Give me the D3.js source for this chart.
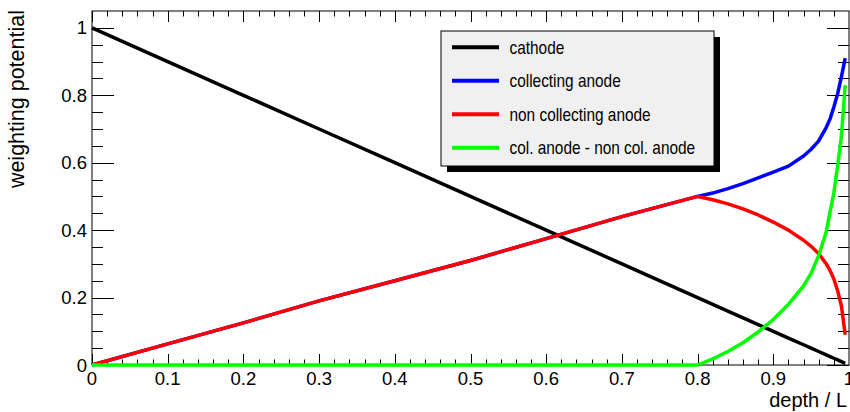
<!DOCTYPE html>
<html><head><meta charset="utf-8">
<script src="https://cdn.jsdelivr.net/npm/d3@7"></script>
<style>
html,body{margin:0;padding:0;background:#fff;}
svg{display:block;font-family:"Liberation Sans",Arial,sans-serif;}
</style></head>
<body>
<svg id="c" width="850" height="412"></svg>
<script>
// ---- data ----
const depth      = [0,0.1,0.2,0.3,0.4,0.5,0.6,0.7,0.8,0.82,0.84,0.86,0.88,0.90,0.92,0.94,0.95,0.96,0.97,0.975,0.98,0.985,0.99,0.995];
const cathode    = [1,0.9,0.8,0.7,0.6,0.5,0.4,0.3,0.2,0.18,0.16,0.14,0.12,0.10,0.08,0.06,0.05,0.04,0.03,0.025,0.02,0.015,0.01,0.005];
const collecting = [0,0.0625,0.125,0.19,0.25,0.31,0.375,0.44,0.5,0.51,0.523,0.538,0.555,0.572,0.59,0.62,0.64,0.665,0.705,0.73,0.765,0.805,0.855,0.91];
const nonCollecting = [0,0.0625,0.125,0.19,0.25,0.31,0.375,0.44,0.5,0.49,0.478,0.463,0.445,0.424,0.40,0.37,0.352,0.33,0.30,0.28,0.255,0.22,0.175,0.09];
const difference = [0,0,0,0,0,0,0,0,0,0.018,0.04,0.066,0.098,0.135,0.18,0.235,0.272,0.325,0.395,0.455,0.51,0.59,0.68,0.83];
const seriesNames = ["cathode","collecting anode","non collecting anode","col. anode - non col. anode"];
const seriesColors = ["#000000","#0000ff","#ff0000","#00ff00"];
const xTicks = [0,0.1,0.2,0.3,0.4,0.5,0.6,0.7,0.8,0.9,1];
const xTickLabels = ["0","0.1","0.2","0.3","0.4","0.5","0.6","0.7","0.8","0.9","1"];
const yTicks = [0,0.2,0.4,0.6,0.8,1];
const yTickLabels = ["0","0.2","0.4","0.6","0.8","1"];
const xTitle = "depth / L";
const yTitle = "weighting potential";

// ---- layout ----
const L = 92, R = 849, T = 11, B = 365;
const svg = d3.select("#c");
const x = d3.scaleLinear().domain([0,1]).range([L,R]);
const y = d3.scaleLinear().domain([0,1.05]).range([B,T]);

// frame
svg.append("rect").attr("x",L).attr("y",T).attr("width",R-L).attr("height",B-T)
  .attr("fill","none").attr("stroke","#000").attr("stroke-width",1);

// ticks
const xMinor = d3.range(0,50).map(i=>i*0.02);
const yMinor = d3.range(0,21).map(i=>i*0.05);
const g = svg.append("g").attr("stroke","#000").attr("stroke-width",1);
xMinor.forEach((v,i)=>{
  const len = (i%5===0)?11:5.5;
  const px = Math.round(x(v))+0.5;
  g.append("line").attr("x1",px).attr("x2",px).attr("y1",B).attr("y2",B-len);
  g.append("line").attr("x1",px).attr("x2",px).attr("y1",T).attr("y2",T+len);
});
yMinor.forEach((v,i)=>{
  const len = (i%4===0)?22:11;
  const py = Math.round(y(v))+0.5;
  g.append("line").attr("x1",L).attr("x2",L+len).attr("y1",py).attr("y2",py);
  g.append("line").attr("x1",R).attr("x2",R-len).attr("y1",py).attr("y2",py);
});

// tick labels
xTicks.forEach((v,i)=>{
  svg.append("text").attr("x",x(v)).attr("y",385).attr("text-anchor","middle")
    .attr("font-size",18.5).text(xTickLabels[i]);
});
yTicks.forEach((v,i)=>{
  svg.append("text").attr("x",87).attr("y",y(v)+6.5).attr("text-anchor","end")
    .attr("font-size",18.5).text(yTickLabels[i]);
});

// axis titles
svg.append("text").attr("x",847).attr("y",407).attr("text-anchor","end")
  .attr("font-size",20).text(xTitle);
svg.append("text").attr("transform","translate(24,10) rotate(-90)")
  .attr("text-anchor","end").attr("font-size",21.5).text(yTitle);

// curves
const series = [cathode, collecting, nonCollecting, difference];
const line = d3.line().x(d=>x(d[0])).y(d=>y(d[1]));
series.forEach((s,k)=>{
  svg.append("path").attr("d",line(depth.map((d,i)=>[d,s[i]])))
    .attr("fill","none").attr("stroke",seriesColors[k]).attr("stroke-width",3.5)
    .attr("stroke-linejoin","round");
});

// legend
const lx = 441, ly = 31, lw = 273, lh = 135;
svg.append("rect").attr("x",lx+6).attr("y",ly+6).attr("width",lw).attr("height",lh).attr("fill","#000");
svg.append("rect").attr("x",lx).attr("y",ly).attr("width",lw).attr("height",lh)
  .attr("fill","#f0f0f0").attr("stroke","#000").attr("stroke-width",1);
const rowY = [47.3,80.7,114.3,147.7];
seriesNames.forEach((n,i)=>{
  svg.append("line").attr("x1",452).attr("x2",499).attr("y1",rowY[i]).attr("y2",rowY[i])
    .attr("stroke",seriesColors[i]).attr("stroke-width",4);
  svg.append("text").attr("transform",`translate(509.5,${rowY[i]+6.3}) scale(0.88,1)`)
    .attr("font-size",17.5).text(n);
});
</script>
</body></html>
